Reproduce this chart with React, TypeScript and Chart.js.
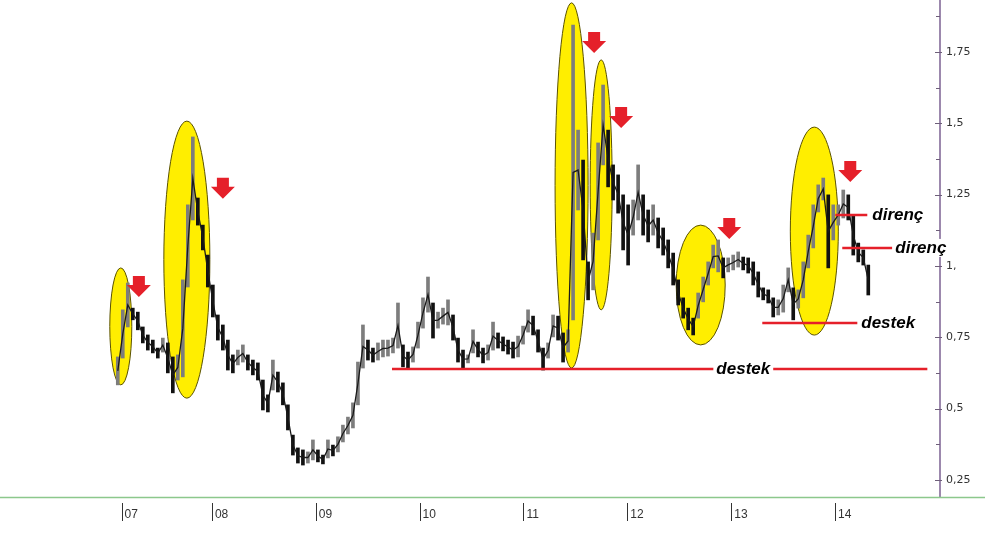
import React, { useEffect, useRef } from "react";
import { Chart, registerables } from "chart.js";

Chart.register(...registerables);

// ---- time axis (evenly spaced trading periods, decimal years) ----
const startYear = 2007.094;
const periodStep = 0.04817;

// ---- price range per period (high / low) ----
const highs = [
  0.681, 0.846, 0.94, 0.852, 0.838, 0.786, 0.758, 0.74, 0.712, 0.747,
  0.73, 0.681, 0.688, 0.951, 1.214, 1.452, 1.238, 1.143, 1.038, 0.933,
  0.828, 0.793, 0.74, 0.688, 0.705, 0.723, 0.688, 0.67, 0.66, 0.6,
  0.548, 0.67, 0.628, 0.59, 0.513, 0.407, 0.362, 0.355, 0.348, 0.39,
  0.355, 0.337, 0.39, 0.372, 0.401, 0.442, 0.47, 0.52, 0.663, 0.793,
  0.74, 0.712, 0.73, 0.74, 0.74, 0.747, 0.87, 0.723, 0.698, 0.716,
  0.803, 0.888, 0.961, 0.87, 0.838, 0.852, 0.881, 0.828, 0.747, 0.705,
  0.688, 0.776, 0.733, 0.712, 0.723, 0.803, 0.765, 0.751, 0.74, 0.733,
  0.754, 0.789, 0.846, 0.824, 0.776, 0.712, 0.73, 0.828, 0.824, 0.765,
  0.776, 1.844, 1.476, 1.371, 1.014, 1.115, 1.431, 1.634, 1.476, 1.354,
  1.319, 1.249, 1.214, 1.231, 1.354, 1.249, 1.196, 1.214, 1.168, 1.133,
  1.091, 1.045, 0.951, 0.888, 0.852, 0.817, 0.905, 0.961, 1.014, 1.073,
  1.091, 1.028, 1.028, 1.038, 1.049, 1.031, 1.028, 1.014, 0.979, 0.923,
  0.916, 0.888, 0.881, 0.933, 0.993, 0.923, 0.916, 1.014, 1.108, 1.214,
  1.284, 1.308, 1.249, 1.214, 1.214, 1.266, 1.249, 1.178, 1.08, 1.056,
  1.003,
];
const lows = [
  0.583, 0.677, 0.786, 0.811, 0.776, 0.73, 0.705, 0.695, 0.677, 0.698,
  0.625, 0.555, 0.6, 0.611, 0.926, 1.161, 1.143, 1.056, 0.926, 0.821,
  0.74, 0.705, 0.635, 0.625, 0.653, 0.663, 0.635, 0.618, 0.6, 0.495,
  0.488, 0.565, 0.558, 0.513, 0.425, 0.337, 0.309, 0.302, 0.309, 0.32,
  0.313, 0.306, 0.327, 0.334, 0.348, 0.383, 0.411, 0.432, 0.513, 0.642,
  0.67, 0.663, 0.67, 0.681, 0.684, 0.695, 0.712, 0.646, 0.642, 0.663,
  0.712, 0.782, 0.838, 0.747, 0.782, 0.796, 0.793, 0.74, 0.663, 0.642,
  0.66, 0.695, 0.681, 0.66, 0.67, 0.705, 0.712, 0.702, 0.691, 0.677,
  0.681, 0.726, 0.768, 0.758, 0.698, 0.635, 0.677, 0.751, 0.74, 0.663,
  0.698, 0.811, 1.196, 1.021, 0.881, 0.916, 1.091, 1.354, 1.277, 1.231,
  1.185, 1.056, 1.003, 1.108, 1.161, 1.108, 1.084, 1.108, 1.063, 1.038,
  0.993, 0.933, 0.863, 0.817, 0.776, 0.758, 0.817, 0.874, 0.933, 0.993,
  0.979, 0.958, 0.979, 0.986, 0.996, 0.986, 0.975, 0.933, 0.891, 0.881,
  0.87, 0.821, 0.828, 0.838, 0.909, 0.811, 0.852, 0.888, 0.993, 1.063,
  1.189, 1.231, 0.993, 1.091, 1.143, 1.168, 1.161, 1.038, 1.014, 1.003,
  0.898,
];

// ---- axes ----
const xMin = 2005.96;
const xMax = 2015.01;
const xTickValues = [2007.13, 2008, 2009, 2010, 2011, 2012, 2013, 2014];
const xTickLabels = ["07", "08", "09", "10", "11", "12", "13", "14"];
const yMin = 0.19;
const yMax = 1.932;
const yTickValues = [0.25, 0.375, 0.5, 0.625, 0.75, 0.875, 1, 1.125, 1.25, 1.375, 1.5, 1.625, 1.75, 1.875];
const yTickLabels = ["0,25", "", "0,5", "", "0,75", "", "1,", "", "1,25", "", "1,5", "", "1,75", ""];

// ---- annotations (data units) ----
const ellipseCentersX = [2007.123, 2007.759, 2011.463, 2011.748, 2012.706, 2013.8];
const ellipseCentersY = [0.788, 1.022, 1.282, 1.284, 0.933, 1.122];
const ellipseRadiiX = [0.106, 0.2216, 0.159, 0.106, 0.236, 0.231];
const ellipseRadiiY = [0.205, 0.4855, 0.64, 0.438, 0.21, 0.3645];

const arrowX = [2007.297, 2008.106, 2011.68, 2011.94, 2012.981, 2014.146];
const arrowTip = [0.891, 1.235, 1.746, 1.483, 1.094, 1.294];

const levelLabels = ["destek", "destek", "direnç", "direnç"];
const levelValues = [0.639, 0.8, 1.178, 1.063];
const levelStart = [2009.734, 2013.299, 2014.002, 2014.069];
const levelEnd = [2014.888, 2014.214, 2014.31, 2014.551];
const levelLabelX = [2013.116, 2014.252, 2014.358, 2014.58];
const levelLabelCentered = [true, false, false, false];

const annotationPlugin = {
  id: "annotations",
  beforeDatasetsDraw(chart: any) {
    const { ctx, scales } = chart;
    const x = scales.x;
    const y = scales.y;
    ctx.save();
    for (let i = 0; i < ellipseCentersX.length; i++) {
      const cx = x.getPixelForValue(ellipseCentersX[i]);
      const cy = y.getPixelForValue(ellipseCentersY[i]);
      const rx = Math.abs(x.getPixelForValue(ellipseCentersX[i] + ellipseRadiiX[i]) - cx);
      const ry = Math.abs(y.getPixelForValue(ellipseCentersY[i] + ellipseRadiiY[i]) - cy);
      ctx.beginPath();
      ctx.ellipse(cx, cy, rx, ry, 0, 0, Math.PI * 2);
      ctx.fillStyle = "#ffee00";
      ctx.fill();
      ctx.strokeStyle = "#5a5200";
      ctx.lineWidth = 1;
      ctx.stroke();
    }
    ctx.restore();
  },
  afterDraw(chart: any) {
    const { ctx, scales, chartArea } = chart;
    const x = scales.x;
    const y = scales.y;
    ctx.save();

    // green baseline
    ctx.strokeStyle = "#8cc88c";
    ctx.lineWidth = 1.5;
    ctx.beginPath();
    ctx.moveTo(0, chartArea.bottom + 0.5);
    ctx.lineTo(985, chartArea.bottom + 0.5);
    ctx.stroke();

    // y tick marks
    ctx.strokeStyle = "#6e5f7a";
    ctx.lineWidth = 1;
    y.ticks.forEach((t: any, i: number) => {
      const py = Math.round(y.getPixelForValue(t.value)) + 0.5;
      const major = yTickLabels[i] !== "";
      ctx.beginPath();
      ctx.moveTo(chartArea.right - (major ? 5 : 4), py);
      ctx.lineTo(chartArea.right + (major ? 2 : 0), py);
      ctx.stroke();
    });

    // x tick marks
    ctx.strokeStyle = "#333";
    x.ticks.forEach((t: any) => {
      const px = Math.round(x.getPixelForValue(t.value)) + 0.5;
      ctx.beginPath();
      ctx.moveTo(px, chartArea.bottom + 6);
      ctx.lineTo(px, chartArea.bottom + 24);
      ctx.stroke();
    });

    // support / resistance lines
    ctx.strokeStyle = "#e5202a";
    ctx.lineWidth = 2.5;
    for (let i = 0; i < levelValues.length; i++) {
      const py = y.getPixelForValue(levelValues[i]);
      ctx.beginPath();
      ctx.moveTo(x.getPixelForValue(levelStart[i]), py);
      ctx.lineTo(x.getPixelForValue(levelEnd[i]), py);
      ctx.stroke();
    }

    // arrows
    ctx.fillStyle = "#e5202a";
    for (let i = 0; i < arrowX.length; i++) {
      const cx = x.getPixelForValue(arrowX[i]);
      const tip = y.getPixelForValue(arrowTip[i]);
      const top = tip - 21;
      const head = tip - 12;
      ctx.beginPath();
      ctx.moveTo(cx - 6, top);
      ctx.lineTo(cx + 6, top);
      ctx.lineTo(cx + 6, head);
      ctx.lineTo(cx + 12, head);
      ctx.lineTo(cx, tip);
      ctx.lineTo(cx - 12, head);
      ctx.lineTo(cx - 6, head);
      ctx.closePath();
      ctx.fill();
    }

    // labels
    ctx.font = "italic bold 17px 'Liberation Sans', Arial, sans-serif";
    ctx.textBaseline = "middle";
    for (let i = 0; i < levelLabels.length; i++) {
      const text = levelLabels[i];
      const w = ctx.measureText(text).width;
      const py = y.getPixelForValue(levelValues[i]);
      const px = x.getPixelForValue(levelLabelX[i]);
      const left = levelLabelCentered[i] ? px - w / 2 : px;
      ctx.fillStyle = "#ffffff";
      ctx.fillRect(left - 3, py - 9, w + 6, 18);
      ctx.fillStyle = "#000000";
      ctx.textAlign = "left";
      ctx.fillText(text, left, py);
    }
    ctx.restore();
  },
};

export default function App() {
  const canvasRef = useRef<HTMLCanvasElement | null>(null);

  useEffect(() => {
    const canvas = canvasRef.current;
    if (!canvas) return;
    const xs = highs.map((_, i) => startYear + i * periodStep);
    const rangeData = highs.map((h, i) => ({ x: xs[i], y: [lows[i], h] }));
    const midData = highs.map((h, i) => ({ x: xs[i], y: (h + lows[i]) / 2 }));
    const colors = highs.map((h, i) => {
      const mid = (h + lows[i]) / 2;
      const prev = i > 0 ? (highs[i - 1] + lows[i - 1]) / 2 : mid;
      return mid < prev ? "#111111" : "#7d7d7d";
    });
    const chart = new Chart(canvas, {
      type: "bar",
      data: {
        datasets: [
          {
            type: "line",
            data: midData as any,
            borderColor: "#1a1a1a",
            borderWidth: 1.3,
            pointRadius: 0,
            tension: 0,
            order: 0,
          } as any,
          {
            type: "bar",
            data: rangeData as any,
            backgroundColor: colors,
            borderWidth: 0,
            barThickness: 3,
            grouped: false,
            order: 1,
          } as any,
        ],
      },
      plugins: [annotationPlugin],
      options: {
        animation: false,
        responsive: false,
        devicePixelRatio: 1,
        layout: { padding: 0, autoPadding: false },
        plugins: { legend: { display: false }, tooltip: { enabled: false } },
        scales: {
          x: {
            type: "linear",
            offset: false,
            min: xMin,
            max: xMax,
            grid: { display: false, offset: false },
            border: { display: false },
            afterBuildTicks: (scale: any) => {
              scale.ticks = xTickValues.map((v) => ({ value: v }));
            },
            afterFit: (scale: any) => {
              scale.height = 52;
              scale.paddingLeft = 0;
              scale.paddingRight = 0;
            },
            ticks: {
              autoSkip: false,
              maxRotation: 0,
              align: "start",
              labelOffset: 3,
              padding: 2,
              color: "#333",
              font: { family: "Arial, 'Liberation Sans', sans-serif", size: 12 },
              callback: (_v: any, i: number) => xTickLabels[i],
            },
          },
          y: {
            type: "linear",
            position: "right",
            min: yMin,
            max: yMax,
            grid: { display: false },
            border: { display: true, color: "#9c88ad", width: 2 },
            afterBuildTicks: (scale: any) => {
              scale.ticks = yTickValues.map((v) => ({ value: v }));
            },
            afterFit: (scale: any) => {
              scale.width = 60;
              scale.paddingTop = 0;
              scale.paddingBottom = 0;
            },
            ticks: {
              autoSkip: false,
              padding: -2,
              color: "#333",
              font: { family: "'DejaVu Sans', Verdana, sans-serif", size: 11 },
              callback: (_v: any, i: number) => yTickLabels[i],
            },
          },
        },
      },
    });
    return () => chart.destroy();
  }, []);

  return (
    <div style={{ position: "fixed", left: 0, top: 0, width: 1000, height: 549, background: "#fff" }}>
      <canvas ref={canvasRef} width={1000} height={549} />
    </div>
  );
}
